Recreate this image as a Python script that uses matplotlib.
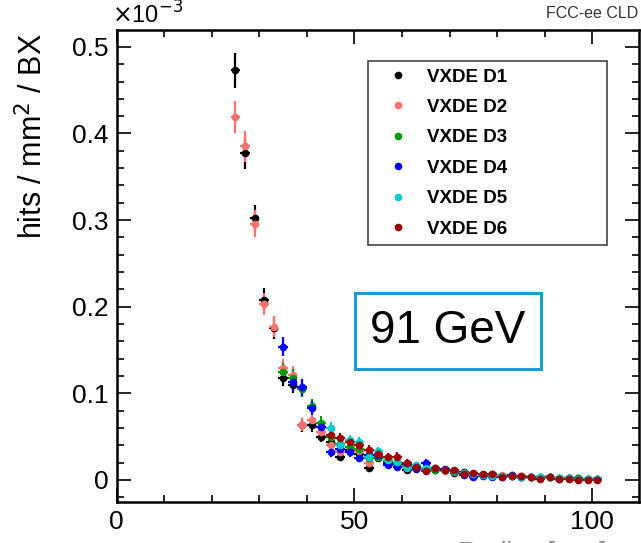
import numpy as np
import matplotlib.pyplot as plt
from matplotlib.lines import Line2D
from matplotlib.patches import Rectangle
from matplotlib.ticker import MultipleLocator

plt.rcParams['font.family'] = ['Liberation Sans', 'DejaVu Sans']

# radius bin centres (mm) for each group of disks
r_d12 = [25, 27, 29, 31, 33, 35, 37, 39, 41, 43, 45, 47, 49, 51, 53, 55, 57, 59, 61,
         63, 65, 67, 69, 71, 73, 75, 77, 79, 81, 83, 85, 87, 89, 91, 93, 95, 97, 99, 101]
r_d34 = r_d12[5:]
r_d56 = r_d12[10:]

# hits / mm^2 / BX, in units of 1e-3
d1 = [0.473, 0.377, 0.302, 0.208, 0.175, 0.118, 0.110, 0.063, 0.063, 0.050, 0.044, 0.027,
      0.035, 0.030, 0.014, 0.025, 0.020, 0.018, 0.012, 0.015, 0.013, 0.011, 0.012, 0.008,
      0.009, 0.007, 0.006, 0.007, 0.005, 0.005, 0.004, 0.004, 0.003, 0.003, 0.002, 0.002,
      0.002, 0.001, 0.001]
d2 = [0.419, 0.385, 0.296, 0.203, 0.177, 0.129, 0.121, 0.064, 0.069, 0.055, 0.040, 0.032,
      0.038, 0.033, 0.020, 0.028, 0.022, 0.020, 0.015, 0.016, 0.012, 0.013, 0.010, 0.009,
      0.008, 0.007, 0.007, 0.006, 0.006, 0.006, 0.005, 0.004, 0.003, 0.004, 0.002, 0.002,
      0.001, 0.001, 0.001]
d3 = [0.125, 0.118, 0.105, 0.085, 0.066, 0.050, 0.042, 0.038, 0.036, 0.025, 0.027, 0.022,
      0.020, 0.017, 0.015, 0.014, 0.012, 0.011, 0.009, 0.008, 0.007, 0.006, 0.006, 0.005,
      0.005, 0.004, 0.004, 0.003, 0.003, 0.002, 0.002, 0.002, 0.001, 0.001]
d4 = [0.154, 0.113, 0.107, 0.083, 0.061, 0.032, 0.036, 0.032, 0.025, 0.029, 0.029, 0.017,
      0.015, 0.018, 0.013, 0.020, 0.014, 0.013, 0.010, 0.006, 0.003, 0.005, 0.003, 0.004,
      0.006, 0.004, 0.003, 0.002, 0.003, 0.001, 0.002, 0.001, 0.001, 0.001]
d5 = [0.060, 0.040, 0.046, 0.044, 0.027, 0.033, 0.023, 0.021, 0.014, 0.017, 0.014, 0.014,
      0.011, 0.010, 0.008, 0.007, 0.006, 0.005, 0.005, 0.005, 0.004, 0.003, 0.003, 0.003,
      0.002, 0.002, 0.001, 0.001, 0.001]
d6 = [0.052, 0.048, 0.044, 0.040, 0.035, 0.030, 0.026, 0.027, 0.020, 0.015, 0.010, 0.014,
      0.012, 0.011, 0.007, 0.008, 0.007, 0.007, 0.004, 0.005, 0.005, 0.003, 0.001, 0.004,
      0.001, 0.001, 0.000, 0.000, 0.000]

labels = ['VXDE D1', 'VXDE D2', 'VXDE D3', 'VXDE D4', 'VXDE D5', 'VXDE D6']
colors = ['black', '#ff7070', '#009900', '#0000ff', '#00cccc', '#990000']
radii = [r_d12, r_d12, r_d34, r_d34, r_d56, r_d56]
values = [d1, d2, d3, d4, d5, d6]

fig = plt.figure(figsize=(6.41, 5.43), dpi=100)
ax = fig.add_axes([116.5 / 641, 1 - 502 / 543, (638.6 - 116.5) / 641, (502 - 30.4) / 543])

for r, v, c in zip(radii, values, colors):
    y = np.array(v)
    # rough statistical uncertainty
    yerr = 0.029 * np.sqrt(y)
    ax.errorbar(r, y, yerr=yerr, xerr=1, fmt='o', color=c, ms=4.5,
                elinewidth=1.6, capsize=0)

ax.set_xlim(0, 109.7)
ax.set_ylim(-0.0254, 0.519)
ax.xaxis.set_major_locator(MultipleLocator(50))
ax.xaxis.set_minor_locator(MultipleLocator(10))
ax.yaxis.set_major_locator(MultipleLocator(0.1))
ax.yaxis.set_minor_locator(MultipleLocator(0.02))
ax.set_xticks([0, 50, 100])
ax.set_xticklabels(['0', '50', '100'])
ax.set_yticks([0, 0.1, 0.2, 0.3, 0.4, 0.5])
ax.set_yticklabels(['0', '0.1', '0.2', '0.3', '0.4', '0.5'])
ax.tick_params(which='both', direction='in', top=True, right=True, width=1.2,
               labelsize=19, colors='black')
ax.tick_params(which='major', length=10, pad=6)
ax.tick_params(which='minor', length=5)
for s in ax.spines.values():
    s.set_linewidth(1.8)

handles = [Line2D([], [], ls='none', marker='o', ms=4.5, color=c) for c in colors]
leg = ax.legend(handles, labels, loc='upper left',
                bbox_to_anchor=(368 / 641, 1 - 248 / 543, 239 / 641, 187 / 543),
                bbox_transform=fig.transFigure, mode='expand',
                prop={'size': 13.5, 'weight': 'bold'}, frameon=True, fancybox=False,
                edgecolor='#444444', framealpha=1, borderpad=0.4, labelspacing=0.71,
                handlelength=2.4, handletextpad=0.35, borderaxespad=0)
leg.get_frame().set_linewidth(1.2)

# energy label box
fig.patches.append(Rectangle((355 / 641, 1 - 369 / 543), 186 / 641, 76 / 543,
                             transform=fig.transFigure, fill=False,
                             edgecolor='#1b9ad6', lw=2.2))
fig.text(448 / 641, 1 - 331 / 543, '91 GeV', fontsize=33, ha='center', va='center')

fig.text(112 / 641, 1 - 24 / 543, r'$\times$10$^{-3}$', fontsize=17, ha='left',
         va='baseline')
fig.text(638 / 641, 1 - 18 / 543, 'FCC-ee CLD', fontsize=11.5, ha='right',
         va='baseline', color='#333333')
fig.text(33 / 641, 1 - 33 / 543, 'hits / mm$^2$ / BX', fontsize=22, rotation=90,
         ha='center', va='top')
fig.text(458 / 641, 1 - 541 / 543, 'Radius [mm]', fontsize=19, ha='left', va='top',
         color='#888888')

fig.savefig('out.png', dpi=100)
